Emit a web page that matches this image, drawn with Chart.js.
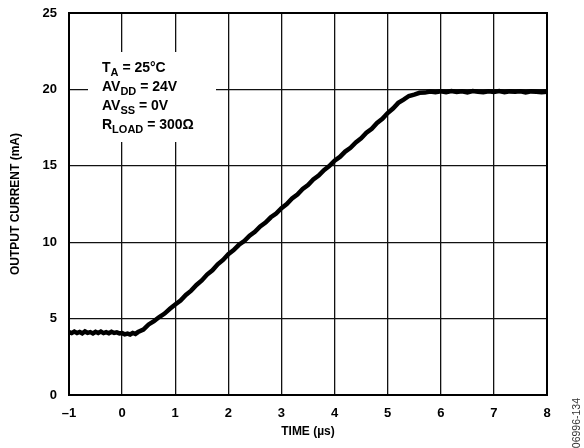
<!DOCTYPE html>
<html>
<head>
<meta charset="utf-8">
<script src="https://cdn.jsdelivr.net/npm/chart.js@4"></script>
<style>
html,body{margin:0;padding:0;background:#fff;}
#wrap{width:584px;height:448px;position:relative;}
</style>
</head>
<body>
<div id="wrap"><canvas id="c" width="584" height="448"></canvas></div>
<script>
// ---- data ----
const timeUs = [
 -1.0,-0.95,-0.9,-0.85,-0.8,-0.75,-0.7,-0.65,-0.6,-0.55,-0.5,-0.45,-0.4,-0.35,-0.3,-0.25,-0.2,-0.15,-0.1,-0.05,
  0.0, 0.05, 0.1, 0.15, 0.2, 0.25, 0.3, 0.4, 0.5, 0.6, 0.7, 0.8, 0.9,
  1.0, 1.1, 1.2, 1.3, 1.4, 1.5, 1.6, 1.7, 1.8, 1.9,
  2.0, 2.1, 2.2, 2.3, 2.4, 2.5, 2.6, 2.7, 2.8, 2.9,
  3.0, 3.1, 3.2, 3.3, 3.4, 3.5, 3.6, 3.7, 3.8, 3.9,
  4.0, 4.1, 4.2, 4.3, 4.4, 4.5, 4.6, 4.7, 4.8, 4.9,
  5.0, 5.1, 5.2, 5.3, 5.4, 5.5, 5.6, 5.7, 5.8, 5.9,
  6.0, 6.1, 6.2, 6.3, 6.4, 6.5, 6.6, 6.7, 6.8, 6.9,
  7.0, 7.1, 7.2, 7.3, 7.4, 7.5, 7.6, 7.7, 7.8, 7.9, 8.0
];
const outputCurrent = [
  4.12, 4.05, 4.15, 4.06, 4.13, 4.04, 4.16, 4.07, 4.12, 4.03, 4.14, 4.06, 4.15, 4.05, 4.11, 4.04, 4.14, 4.06, 4.10, 4.03,
  4.05, 3.97, 4.02, 3.96, 4.06, 4.00, 4.12, 4.28, 4.62, 4.84, 5.10, 5.33, 5.64,
  5.92, 6.18, 6.55, 6.83, 7.20, 7.50, 7.88, 8.16, 8.55, 8.84,
  9.22, 9.48, 9.83,10.08,10.43,10.68,11.03,11.28,11.63,11.88,
 12.23,12.50,12.86,13.12,13.48,13.74,14.10,14.36,14.72,14.98,
 15.33,15.58,15.93,16.18,16.53,16.80,17.16,17.42,17.80,18.07,
 18.45,18.75,19.12,19.33,19.57,19.66,19.78,19.79,19.86,19.81,
 19.88,19.82,19.89,19.83,19.87,19.80,19.89,19.84,19.82,19.88,
 19.83,19.89,19.81,19.87,19.84,19.88,19.80,19.87,19.85,19.82,19.84
];
const xTicks = [-1,0,1,2,3,4,5,6,7,8];
const yTicks = [0,5,10,15,20,25];
const annotationLines = [
  ["T","A"," = 25°C"],
  ["AV","DD"," = 24V"],
  ["AV","SS"," = 0V"],
  ["R","LOAD"," = 300Ω"]
];
const xTitle = "TIME (µs)";
const yTitle = "OUTPUT CURRENT (mA)";
const figId = "06996-134";

const FONT = "'Liberation Sans', Arial, Helvetica, sans-serif";
const PL = 0, PT = 13, PR = 37, PB = 0;
const LEFT = 69, BOTTOM = 395;

const boxPlugin = {
  id: 'boxPlugin',
  beforeDatasetsDraw(chart) {
    const ctx = chart.ctx;
    ctx.save();
    ctx.fillStyle = '#fff';
    ctx.fillRect(88, 52, 128, 90);
    ctx.fillStyle = '#000';
    let y = 72;
    for (const [a, sub, b] of annotationLines) {
      let x = 102;
      ctx.font = "bold 14px " + FONT;
      ctx.textBaseline = 'alphabetic';
      ctx.fillText(a, x, y);
      x += ctx.measureText(a).width;
      ctx.font = "bold 11px " + FONT;
      ctx.fillText(sub, x, y + 4);
      x += ctx.measureText(sub).width;
      ctx.font = "bold 14px " + FONT;
      ctx.fillText(b, x, y);
      y += 19;
    }
    ctx.restore();
  },
  afterDraw(chart) {
    const ctx = chart.ctx;
    const a = chart.chartArea;
    ctx.save();
    ctx.strokeStyle = '#000';
    ctx.lineWidth = 2;
    ctx.strokeRect(a.left, a.top, a.right - a.left, a.bottom - a.top);
    ctx.translate(577, 398);
    ctx.rotate(-Math.PI / 2);
    ctx.font = "10.5px " + FONT;
    ctx.fillStyle = '#333';
    ctx.textAlign = 'right';
    ctx.textBaseline = 'middle';
    ctx.fillText(figId, 0, 0);
    ctx.restore();
  }
};

new Chart(document.getElementById('c'), {
  type: 'line',
  data: {
    datasets: [{
      data: timeUs.map((t, i) => ({x: t, y: outputCurrent[i]})),
      borderColor: '#000',
      borderWidth: 4.5,
      pointRadius: 0,
      tension: 0,
      fill: false
    }]
  },
  options: {
    responsive: false,
    animation: false,
    events: [],
    layout: {padding: {left: PL, top: PT, right: PR, bottom: PB}},
    plugins: {legend: {display: false}, tooltip: {enabled: false}},
    scales: {
      x: {
        type: 'linear', min: -1, max: 8,
        afterBuildTicks: s => { s.ticks = xTicks.map(v => ({value: v})); },
        afterFit: s => { s.height = 448 - BOTTOM - PB; s.paddingLeft = 0; s.paddingRight = 0; },
        grid: {color: '#111', lineWidth: 1.3, drawTicks: false},
        border: {display: false},
        ticks: {
          color: '#000', padding: 11,
          font: {family: FONT, size: 13, weight: 'bold'},
          callback: v => v < 0 ? '\u2013' + Math.abs(v) : String(v)
        },
        title: {display: true, text: xTitle, color: '#000', padding: {top: 2, bottom: 9},
          font: {family: FONT, size: 12, weight: 'bold'}}
      },
      y: {
        type: 'linear', min: 0, max: 25,
        afterBuildTicks: s => { s.ticks = yTicks.map(v => ({value: v})); },
        afterFit: s => { s.width = LEFT - PL; s.paddingTop = 0; s.paddingBottom = 0; },
        grid: {color: '#111', lineWidth: 1.3, drawTicks: false},
        border: {display: false},
        ticks: {
          color: '#000', padding: 12,
          font: {family: FONT, size: 13, weight: 'bold'}
        },
        title: {display: true, text: yTitle, color: '#000', padding: {top: 8, bottom: 0},
          font: {family: FONT, size: 12, weight: 'bold'}}
      }
    }
  },
  plugins: [boxPlugin]
});
</script>
</body>
</html>
